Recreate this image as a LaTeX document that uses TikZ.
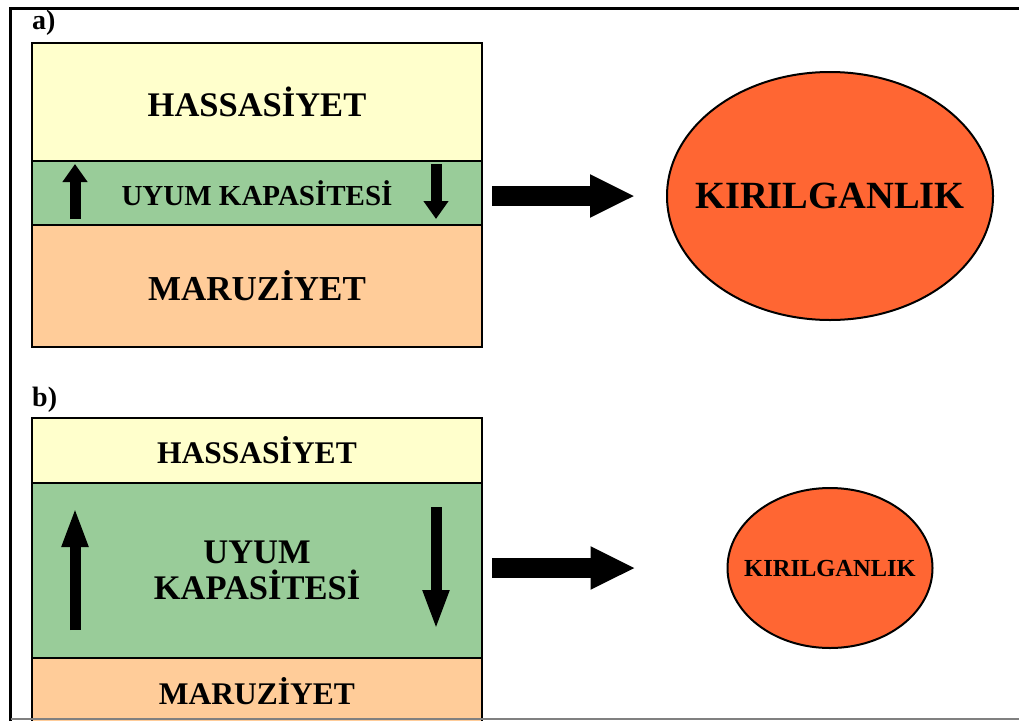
\documentclass[tikz,border=0pt]{standalone}
\usepackage{fontspec}
\setmainfont{Liberation Serif}
\usepackage{tikz}
\usetikzlibrary{arrows.meta,positioning,shapes.geometric}
\definecolor{vulCream}{HTML}{FFFFCC}
\definecolor{vulGreen}{HTML}{99CC99}
\definecolor{vulPeach}{HTML}{FFCC99}
\definecolor{vulOrange}{HTML}{FF6633}
\tikzset{
  vul diagram/.style={x=1pt, y=-1pt, line join=miter},
  vul text/.style 2 args={font=\fontsize{#1}{#2}\selectfont\bfseries},
  vul band/.style={draw=black, line width=1.3pt, minimum width=450pt,
    inner sep=0pt, outer sep=0pt, align=center},
  vul ellipse/.style={ellipse, draw=black, line width=2pt, fill=vulOrange,
    inner sep=0pt, outer sep=0pt},
  vul arrow/.style={-{Triangle[width=40pt,length=45pt]}, line width=20pt,
    shorten <=10pt, shorten >=32pt},
  vul updown/.style={-{Triangle[width=24pt,length=#1]}, line width=11pt},
  vul updown/.default=18pt,
  vul tag/.style={anchor=west, inner sep=0pt, vul text={28}{28}}
}
\begin{document}
\begin{tikzpicture}[vul diagram]
\useasboundingbox (0,0) rectangle (1019,720);
\clip (0,0) rectangle (1019,720);
\fill[white] (0,0) rectangle (1019,720);
% a)
\node[vul tag] (tagA) at (32,23) {a)};
\node[vul band, fill=vulCream, minimum height=118pt, anchor=north west,
  vul text={34.5}{36}] (hassA) at (32,43) {HASSASİYET};
\node[vul band, fill=vulGreen, minimum height=64pt, below=0pt of hassA,
  vul text={29}{30}] (uyumA) {UYUM KAPASİTESİ};
\node[vul band, fill=vulPeach, minimum height=122pt, below=0pt of uyumA,
  vul text={35}{36}] (maruzA) {MARUZİYET};
\draw[vul updown] (75,219) -- (75,164);
\draw[vul updown] (436,164) -- (436,219);
\node[vul ellipse, minimum width=326pt, minimum height=248pt] (kirA) at (830,196) {};
\node[vul text={38.5}{40}] (kirAText) at (kirA) {KIRILGANLIK};
\draw[vul arrow] (uyumA.east |- kirA) -- (kirA);
% b)
\node[vul tag] (tagB) at (32,400) {b)};
\node[vul band, fill=vulCream, minimum height=65pt, anchor=north west,
  vul text={31.5}{33}] (hassB) at (32,418) {HASSASİYET};
\node[vul band, fill=vulGreen, minimum height=175pt, below=0pt of hassB,
  vul text={34.5}{36}] (uyumB) {UYUM\\KAPASİTESİ};
\node[vul band, fill=vulPeach, minimum height=67pt, below=0pt of uyumB,
  vul text={31.5}{33}] (maruzB) {MARUZİYET};
\draw[vul updown=40pt] (75,630) -- (75,507);
\draw[vul updown=40pt] (436,507) -- (436,630);
\node[vul ellipse, minimum width=205pt, minimum height=160pt] (kirB) at (830,568) {};
\node[vul text={24.5}{26}] (kirBText) at (kirB) {KIRILGANLIK};
\draw[vul arrow, shorten >=92pt] (uyumB.east |- kirB) -- (kirB);
% frame
\draw[line width=3.5pt] (1030,8.5) -- (10.5,8.5) -- (10.5,730);
\draw[gray, line width=1.5pt] (10.5,719.2) -- (1030,719.2);
\end{tikzpicture}
\end{document}
